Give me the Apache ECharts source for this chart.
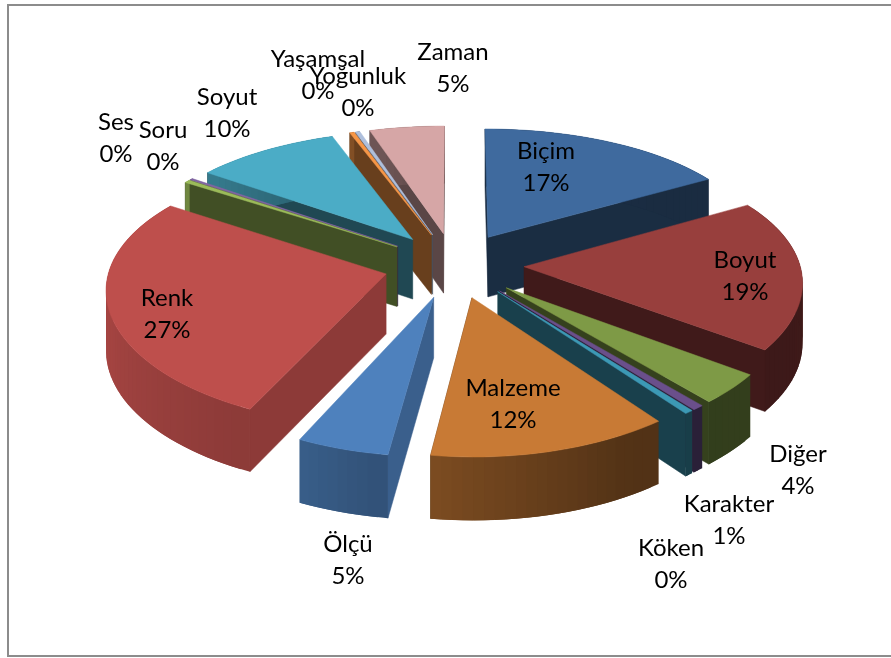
<!DOCTYPE html>
<html><head><meta charset="utf-8">
<style>html,body{margin:0;padding:0;background:#fff}#c{width:891px;height:658px}</style>
<script src="https://cdn.jsdelivr.net/npm/echarts@6/dist/echarts.min.js"></script>
</head><body><div id="c"></div>
<script>
const categories = ['Biçim','Boyut','Diğer','Karakter','Köken','Malzeme','Ölçü','Renk','Ses','Soru','Soyut','Yaşamsal','Yoğunluk','Zaman'];
const shares = [16.55,18.55,3.6,0.6,0.45,12.45,4.75,27.4,0.4,0.2,9.55,0.3,0.3,4.9];
const colors = ['#3F6A9E','#983F3D','#7E9A46','#6A4F8B','#3C99B5','#C87A35','#4E81BD','#BE4F4C','#9BBB59','#8064A2','#4BACC6','#F79646','#AEBFDC','#D6A6A6'];
const labelAnchors = [[546,167],[745,276],[798,470],[729,520],[671,564],[513,404],[348,560],[167,314],[116,138],[163,146],[227,113],[318,75],[358,92],[453,68]];
const view = {cx:454, cy:265, R:276, explode:70, tilt:0.468, perspX:0.10, perspY:0.13, depth:60};

const total = shares.reduce((a,b)=>a+b,0);
let acc = 0;
const spans = shares.map(v=>{const a=acc/total*360; acc+=v; return [a,acc/total*360];});
const rad = d=>d*Math.PI/180;
const rank = categories.map((_,i)=>i).sort((a,b)=>Math.cos(rad((spans[b][0]+spans[b][1])/2))-Math.cos(rad((spans[a][0]+spans[a][1])/2)));
const orderOf = {}; rank.forEach((id,o)=>orderOf[id]=o);

function project(X,Y,down){
  const sx = 1/(1+view.perspX*Y/view.R);
  const sy = 1/(1+view.perspY*Y/view.R);
  const d = down ? view.depth*(1+(sy-1)*0.3) : 0;
  return [view.cx+X*sx, view.cy-view.tilt*Y*sy+d];
}
function hexShade(hex,f){
  const n=parseInt(hex.slice(1),16);
  const c=[n>>16&255,n>>8&255,n&255].map(v=>Math.round(Math.min(255,v*f)));
  return 'rgb('+c.join(',')+')';
}
function outerShade(phi){
  const pts=[[0,.42],[140,.40],[150,.42],[186,.62],[205,.74],[255,.87],[290,.8],[360,.42]];
  for(let i=1;i<pts.length;i++){ if(phi<=pts[i][0]){const a=pts[i-1],b=pts[i];return a[1]+(b[1]-a[1])*(phi-a[0])/(b[0]-a[0]);} }
  return .42;
}
function renderItem(params,api){
  const i=params.dataIndex;
  const value=api.value(1);
  const a0=spans[i][0];
  const a1=a0+value/total*360;
  const mid=(a0+a1)/2;
  const ax=view.explode*Math.sin(rad(mid)), ay=view.explode*Math.cos(rad(mid));
  const rim=t=>[ax+view.R*Math.sin(rad(t)), ay+view.R*Math.cos(rad(t))];
  const col=colors[i], z=orderOf[i]*10;
  const kids=[];
  const poly=(pts,fill,zz)=>kids.push({type:'polygon',shape:{points:pts},style:{fill:fill,stroke:fill,lineWidth:0.5},z2:z+zz});
  const steps=Math.max(2,Math.ceil((a1-a0)/2));
  const angs=[];for(let k=0;k<=steps;k++)angs.push(a0+(a1-a0)*k/steps);
  [[a0,a0-90],[a1,a1+90]].forEach(e=>{
    const phi=(e[1]+360)%360;
    if(Math.cos(rad(phi))<0.15){
      const p=rim(e[0]);
      const f=(phi>90&&phi<135)?0.74:0.42;
      poly([project(ax,ay,0),project(p[0],p[1],0),project(p[0],p[1],1),project(ax,ay,1)],hexShade(col,f),0);
    }
  });
  for(let k=0;k<steps;k++){
    const p=rim(angs[k]),q=rim(k+2<=steps?angs[k+2]:angs[k+1]);
    kids.push({type:'polygon',shape:{points:[project(p[0],p[1],0),project(q[0],q[1],0),project(q[0],q[1],1),project(p[0],p[1],1)]},style:{fill:hexShade(col,outerShade((angs[k]+angs[k+1])/2))},z2:z+1+(steps-k)/(steps+1)});
  }
  const top=[project(ax,ay,0)];
  angs.forEach(t=>{const p=rim(t);top.push(project(p[0],p[1],0));});
  poly(top,col,2);
  const pct=Math.round(value/total*100);
  kids.push({type:'text',z2:1000,style:{text:categories[i]+'\n'+pct+'%',x:labelAnchors[i][0],y:labelAnchors[i][1],align:'center',verticalAlign:'middle',fontFamily:'Lato',fontSize:24,lineHeight:32,fill:'#000'}});
  return {type:'group',children:kids};
}
const chart=echarts.init(document.getElementById('c'),null,{renderer:'canvas'});
chart.setOption({
  animation:false,
  backgroundColor:'#fff',
  graphic:[{type:'rect',shape:{x:8,y:5,width:900,height:651},style:{fill:'none',stroke:'#8c8c8c',lineWidth:2},silent:true,z:-1}],
  series:[{type:'custom',coordinateSystem:'none',renderItem:renderItem,data:shares.map((v,i)=>[i,v]),silent:true}]
});
</script></body></html>
